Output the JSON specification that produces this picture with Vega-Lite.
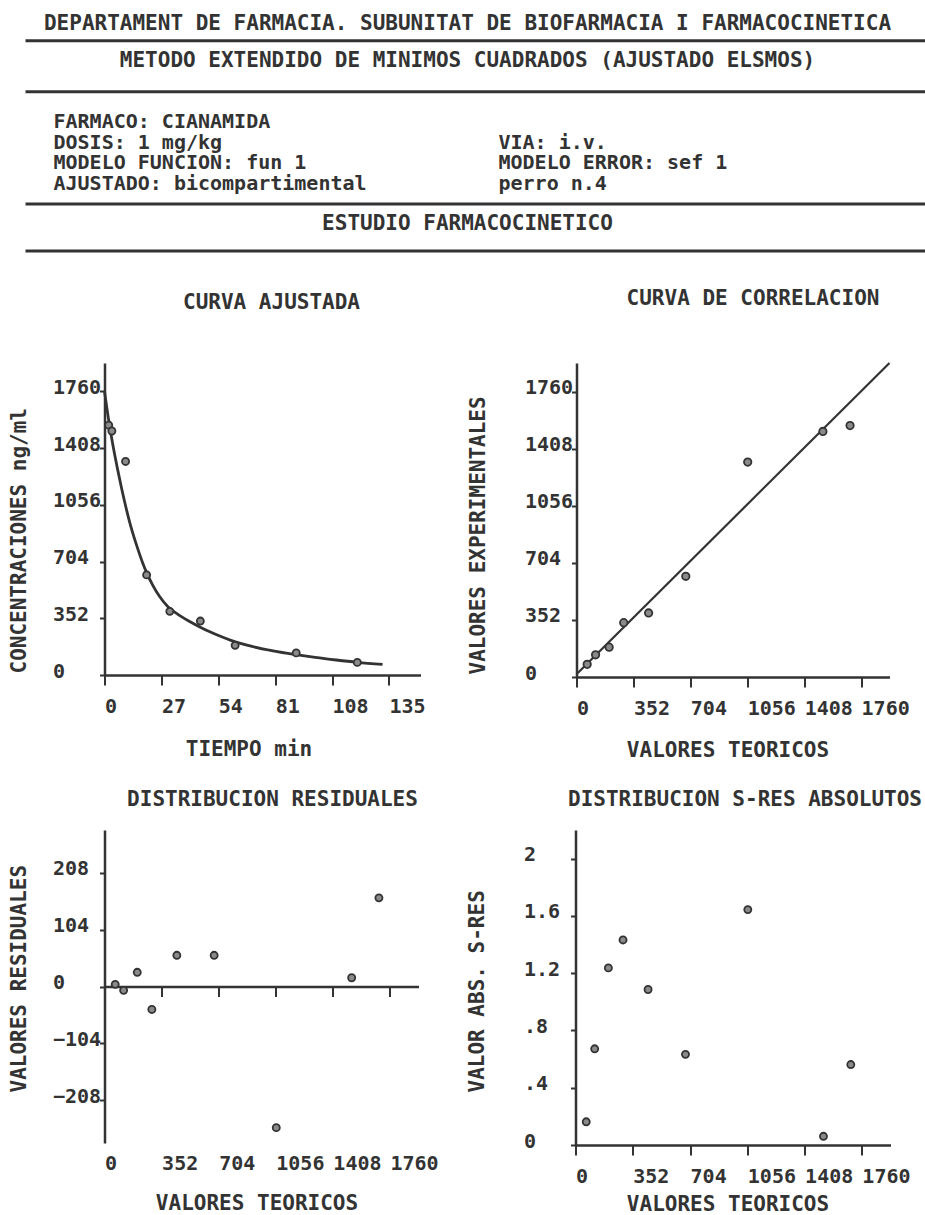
{
  "$schema": "https://vega.github.io/schema/vega-lite/v6.json",
  "background": "white",
  "padding": {"left": 7.5, "top": 0, "right": 0, "bottom": 0},
  "config": {
    "font": "DejaVu Sans Mono",
    "view": {"stroke": null},
    "axis": {
      "grid": false,
      "domainColor": "#333333",
      "domainWidth": 2.5,
      "tickColor": "#333333",
      "tickWidth": 2,
      "labelColor": "#333333",
      "labelFont": "DejaVu Sans Mono",
      "labelFontSize": 20,
      "labelFontWeight": "bold",
      "labelOverlap": false,
      "labelFlush": false,
      "titleColor": "#333333",
      "titleFont": "DejaVu Sans Mono",
      "titleFontSize": 21,
      "titleFontWeight": "bold"
    },
    "axisX": {
      "labelAlign": "left",
      "labelBaseline": "alphabetic",
      "tickSize": 10,
      "labelPadding": 27,
      "titleAlign": "center",
      "titleBaseline": "alphabetic"
    },
    "axisY": {
      "labelAlign": "left",
      "labelBaseline": "alphabetic",
      "labelOffset": 2,
      "tickSize": 5,
      "labelPadding": 47,
      "titleAngle": 270,
      "titleAlign": "left",
      "titleBaseline": "middle"
    },
    "title": {
      "font": "DejaVu Sans Mono",
      "fontSize": 21,
      "fontWeight": "bold",
      "color": "#333333",
      "anchor": "middle",
      "frame": "group",
      "baseline": "alphabetic"
    }
  },
  "datasets": {
    "cabecera": [
      {"linea": 1.2, "grupo": "centro", "texto": "DEPARTAMENT DE FARMACIA. SUBUNITAT DE BIOFARMACIA I FARMACOCINETICA"},
      {"linea": 3, "grupo": "centro", "texto": "METODO EXTENDIDO DE MINIMOS CUADRADOS (AJUSTADO ELSMOS)"},
      {"linea": 6, "grupo": "izq", "texto": "FARMACO: CIANAMIDA"},
      {"linea": 7, "grupo": "izq", "texto": "DOSIS: 1 mg/kg"},
      {"linea": 8, "grupo": "izq", "texto": "MODELO FUNCION: fun 1"},
      {"linea": 9, "grupo": "izq", "texto": "AJUSTADO: bicompartimental"},
      {"linea": 7, "grupo": "der", "texto": "VIA: i.v."},
      {"linea": 8, "grupo": "der", "texto": "MODELO ERROR: sef 1"},
      {"linea": 9, "grupo": "der", "texto": "perro n.4"},
      {"linea": 11, "grupo": "centro", "texto": "ESTUDIO FARMACOCINETICO"}
    ],
    "separadores": [{"linea": 2}, {"linea": 4.5}, {"linea": 10}, {"linea": 12.3}],
    "obs": [
      {"t": 2, "conc": 1550, "teo": 1692, "res": 162, "sres": 0.562},
      {"t": 3.5, "conc": 1514, "teo": 1524, "res": 16, "sres": 0.061},
      {"t": 10, "conc": 1325, "teo": 1059, "res": -258, "sres": 1.644},
      {"t": 20, "conc": 621, "teo": 676, "res": 57, "sres": 0.633},
      {"t": 31, "conc": 395, "teo": 446, "res": 57, "sres": 1.086},
      {"t": 45.5, "conc": 335, "teo": 292, "res": -42, "sres": 1.432},
      {"t": 62, "conc": 184, "teo": 202, "res": 26, "sres": 1.237},
      {"t": 91, "conc": 137, "teo": 118, "res": -7, "sres": 0.672},
      {"t": 120, "conc": 78, "teo": 66, "res": 4, "sres": 0.162}
    ],
    "curva": [
      {"t": 0, "conc": 1760}, {"t": 2, "conc": 1580}, {"t": 4, "conc": 1425},
      {"t": 6, "conc": 1290}, {"t": 8, "conc": 1165}, {"t": 10, "conc": 1050},
      {"t": 12, "conc": 945}, {"t": 14, "conc": 855}, {"t": 16, "conc": 775},
      {"t": 18, "conc": 700}, {"t": 20, "conc": 635}, {"t": 23, "conc": 555},
      {"t": 26, "conc": 490}, {"t": 30, "conc": 425}, {"t": 35, "conc": 375},
      {"t": 40, "conc": 335}, {"t": 45, "conc": 300}, {"t": 50, "conc": 268},
      {"t": 55, "conc": 240}, {"t": 60, "conc": 215}, {"t": 70, "conc": 177},
      {"t": 80, "conc": 150}, {"t": 90, "conc": 128}, {"t": 100, "conc": 109},
      {"t": 110, "conc": 93}, {"t": 120, "conc": 79}, {"t": 132, "conc": 66}
    ],
    "recta": [{"teo": 0, "conc": 17}, {"teo": 1936, "conc": 1936}]
  },
  "spacing": 32,
  "vconcat": [
    {
      "width": 821,
      "height": 255,
      "encoding": {
        "y": {"field": "linea", "type": "quantitative", "scale": {"domain": [0, 12.5], "reverse": true, "nice": false}, "axis": null}
      },
      "layer": [
        {
          "data": {"name": "separadores"},
          "mark": {"type": "rule", "strokeWidth": 3, "color": "#333333"},
          "encoding": {
            "x": {"datum": 0, "type": "quantitative", "scale": {"domain": [0, 1], "range": [-79, 821], "nice": false}, "axis": null},
            "x2": {"datum": 1}
          }
        },
        {
          "data": {"name": "cabecera"},
          "transform": [{"filter": "datum.grupo === 'centro'"}],
          "mark": {"type": "text", "align": "center", "baseline": "middle", "dx": -8, "fontSize": 21, "fontWeight": "bold", "color": "#333333"},
          "encoding": {"x": {"datum": 0.5, "type": "quantitative"}, "text": {"field": "texto"}}
        },
        {
          "data": {"name": "cabecera"},
          "transform": [{"filter": "datum.grupo === 'izq'"}],
          "mark": {"type": "text", "align": "left", "baseline": "middle", "dx": 28, "fontSize": 20, "fontWeight": "bold", "color": "#333333"},
          "encoding": {"x": {"datum": 0, "type": "quantitative"}, "text": {"field": "texto"}}
        },
        {
          "data": {"name": "cabecera"},
          "transform": [{"filter": "datum.grupo === 'der'"}],
          "mark": {"type": "text", "align": "left", "baseline": "middle", "dx": 23, "fontSize": 20, "fontWeight": "bold", "color": "#333333"},
          "encoding": {"x": {"datum": 0.5, "type": "quantitative"}, "text": {"field": "texto"}}
        }
      ]
    },
    {
      "spacing": 29,
      "vconcat": [
        {
          "spacing": 41,
          "hconcat": [
            {
              "width": 316,
              "height": 312,
              "title": {"text": "CURVA AJUSTADA", "dx": 9, "offset": 50},
              "encoding": {
                "x": {"field": "t", "type": "quantitative", "scale": {"domain": [0, 150], "nice": false},
                      "axis": {"values": [0, 27, 54, 81, 108, 135], "format": "d", "title": "TIEMPO min", "titleX": 144, "titleY": 80}},
                "y": {"field": "conc", "type": "quantitative", "scale": {"domain": [0, 1936], "nice": false},
                      "axis": {"values": [0, 352, 704, 1056, 1408, 1760], "format": "d", "title": "CONCENTRACIONES ng/ml", "titleX": -85, "titleY": 310}}
              },
              "layer": [
                {
                  "data": {"name": "curva"},
                  "mark": {"type": "line", "color": "#333333", "strokeWidth": 2.8, "interpolate": "monotone"}
                },
                {
                  "data": {"name": "obs"},
                  "mark": {"type": "point", "shape": "circle", "filled": true, "fill": "#8a8a8a", "stroke": "#333333", "strokeWidth": 1.8, "size": 50, "opacity": 1}
                }
              ]
            },
            {
              "width": 313,
              "height": 314,
              "title": {"text": "CURVA DE CORRELACION", "dx": 20, "offset": 50},
              "encoding": {
                "x": {"field": "teo", "type": "quantitative", "scale": {"domain": [0, 1936], "nice": false},
                      "axis": {"values": [0, 352, 704, 1056, 1408, 1760], "format": "d", "title": "VALORES TEORICOS", "titleX": 151, "titleY": 79}},
                "y": {"field": "conc", "type": "quantitative", "scale": {"domain": [0, 1936], "nice": false},
                      "axis": {"values": [0, 352, 704, 1056, 1408, 1760], "format": "d", "title": "VALORES EXPERIMENTALES", "titleX": -98, "titleY": 311}}
              },
              "layer": [
                {
                  "data": {"name": "recta"},
                  "mark": {"type": "line", "color": "#333333", "strokeWidth": 2.2}
                },
                {
                  "data": {"name": "obs"},
                  "mark": {"type": "point", "shape": "circle", "filled": true, "fill": "#8a8a8a", "stroke": "#333333", "strokeWidth": 1.8, "size": 55, "opacity": 1}
                }
              ]
            }
          ]
        },
        {
          "spacing": 27,
          "hconcat": [
            {
              "width": 314,
              "height": 313,
              "title": {"text": "DISTRIBUCION RESIDUALES", "dx": 11, "offset": 20},
              "data": {"name": "obs"},
              "mark": {"type": "point", "shape": "circle", "filled": true, "fill": "#8a8a8a", "stroke": "#333333", "strokeWidth": 1.8, "size": 50, "opacity": 1},
              "encoding": {
                "x": {"field": "teo", "type": "quantitative", "scale": {"domain": [0, 1936], "nice": false},
                      "axis": {"values": [0, 352, 704, 1056, 1408, 1760], "format": "d", "offset": -156.5, "labelPadding": 173,
                               "title": "VALORES TEORICOS", "titleX": 152, "titleY": 223,
                               "encode": {"labels": {"update": {"dx": {"signal": "datum.value === 1760 ? 8 : 0"}}}}}},
                "y": {"field": "res", "type": "quantitative", "scale": {"domain": [-286, 286], "nice": false, "zero": false},
                      "axis": {"values": [-208, -104, 0, 104, 208], "format": "d", "title": "VALORES RESIDUALES", "titleX": -85, "titleY": 262}}
              }
            },
            {
              "width": 315,
              "height": 315,
              "title": {"text": "DISTRIBUCION S-RES ABSOLUTOS", "dx": 12, "offset": 20},
              "data": {"name": "obs"},
              "mark": {"type": "point", "shape": "circle", "filled": true, "fill": "#8a8a8a", "stroke": "#333333", "strokeWidth": 1.8, "size": 50, "opacity": 1},
              "encoding": {
                "x": {"field": "teo", "type": "quantitative", "scale": {"domain": [0, 1936], "nice": false},
                      "axis": {"values": [0, 352, 704, 1056, 1408, 1760], "format": "d", "title": "VALORES TEORICOS", "titleX": 152, "titleY": 65}},
                "y": {"field": "sres", "type": "quantitative", "scale": {"domain": [0, 2.2], "nice": false},
                      "axis": {"values": [0, 0.4, 0.8, 1.2, 1.6, 2],
                               "labelExpr": "datum.value == 0 ? '0' : datum.value == 2 ? '2' : replace(format(datum.value, '.1f'), '0.', '.')",
                               "title": "VALOR ABS. S-RES", "titleX": -98, "titleY": 262}}
              }
            }
          ]
        }
      ]
    }
  ]
}
